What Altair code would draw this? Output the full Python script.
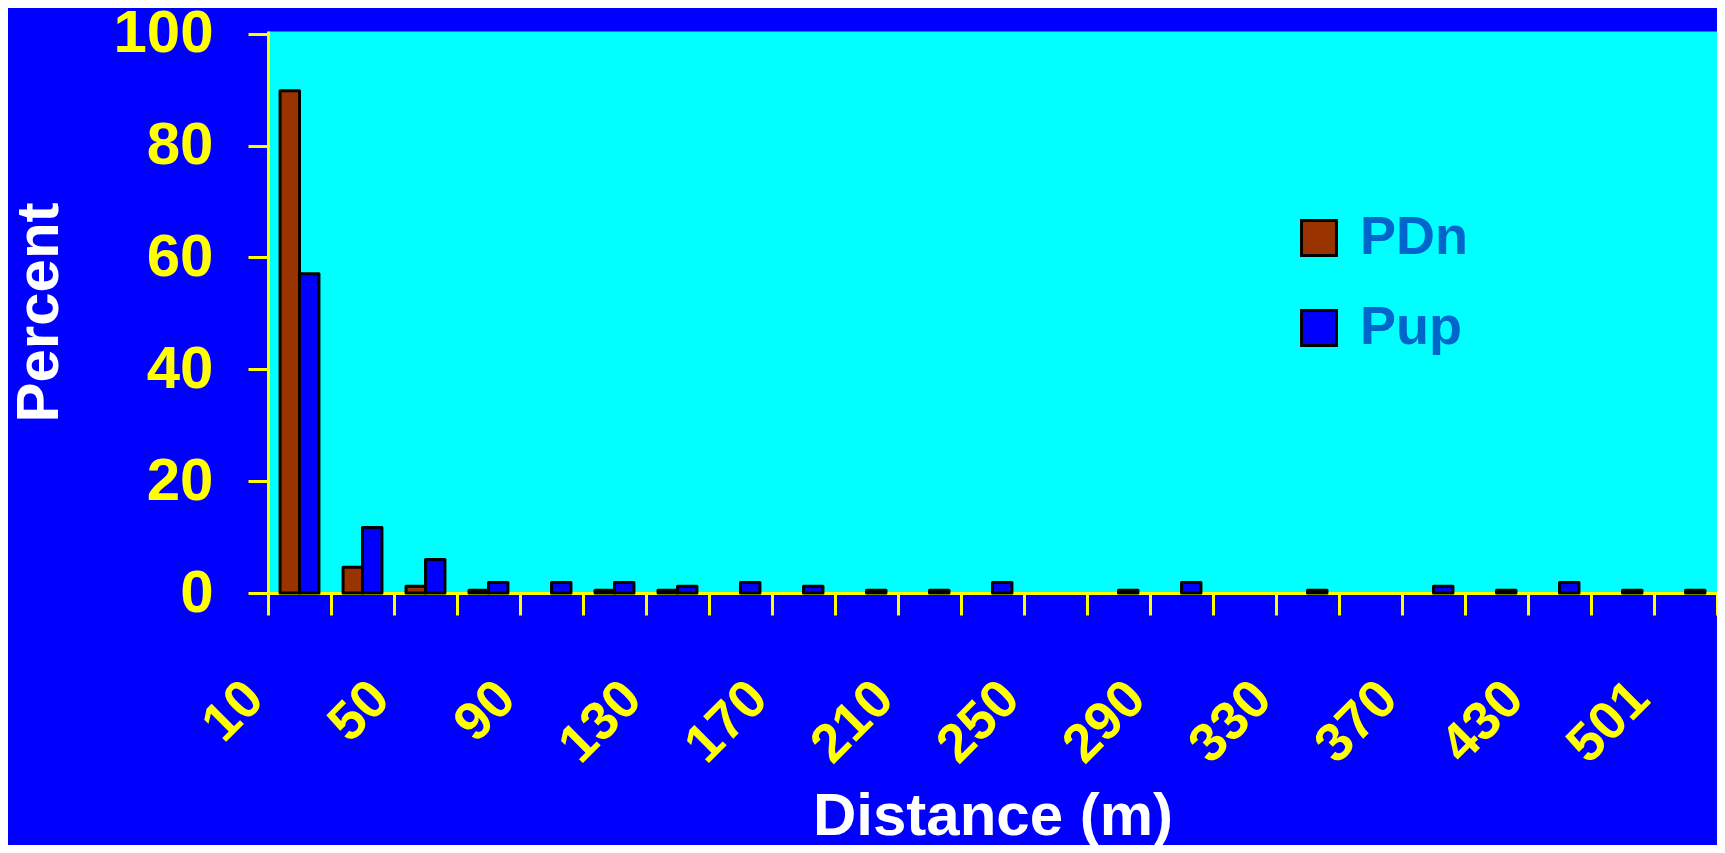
import altair as alt
import pandas as pd

# ---- data ----
categories = ["10", "30", "50", "70", "90", "110", "130", "150", "170", "190", "210", "230",
              "250", "270", "290", "310", "330", "350", "370", "390", "430", "470", "501"]
shown_labels = ["10", "50", "90", "130", "170", "210", "250", "290", "330", "370", "430", "501"]
pdn_values = [89.8, 4.6, 1.2, 0.5, 0, 0.5, 0.5, 0, 0, 0, 0, 0,
              0, 0, 0, 0, 0, 0, 0, 0, 0, 0, 0]
pup_values = [57.1, 11.7, 6.0, 1.9, 1.9, 1.9, 1.2, 1.9, 1.2, 0.5, 0.5, 1.9,
              0, 0.5, 1.9, 0, 0.5, 0, 1.2, 0.5, 1.9, 0.5, 0.5]
series_names = ["PDn", "Pup"]
series_colors = ["#993300", "#0000FF"]
y_ticks = [0, 20, 40, 60, 80, 100]

rows = []
for cat, a, b in zip(categories, pdn_values, pup_values):
    rows.append({"dist": cat, "series": "PDn", "value": a})
    rows.append({"dist": cat, "series": "Pup", "value": b})
df = pd.DataFrame(rows)

FONT = "Liberation Sans"
label_list = "[" + ",".join("'" + s + "'" for s in shown_labels) + "]"

chart = alt.Chart(df).transform_filter("datum.value > 0").mark_bar(
    stroke="black", strokeWidth=3, strokeJoin="round"
).encode(
    x=alt.X(
        "dist:N",
        sort=categories,
        scale=alt.Scale(domain=categories, paddingInner=0, paddingOuter=0),
        axis=alt.Axis(
            title="Distance (m)",
            titleFont=FONT, titleFontSize=60, titleFontWeight="bold", titleColor="white",
            titleY=241, titleBaseline="alphabetic",
            labelFont=FONT, labelFontSize=54, labelFontWeight="bold", labelColor="#FFFF00",
            labelAngle=315, labelAlign="right", labelBaseline="middle",
            labelPadding=75, labelOffset=-45, labelOverlap=False,
            labelExpr="indexof(" + label_list + ", datum.label) >= 0 ? datum.label : ''",
            tickBand="extent", tickSize=22, tickWidth=3, tickColor="#FFFF00",
            domainColor="#FFFF00", domainWidth=3, grid=False,
        ),
    ),
    xOffset=alt.XOffset(
        "series:N",
        scale=alt.Scale(domain=series_names, paddingInner=0, paddingOuter=0.62),
    ),
    y=alt.Y(
        "value:Q",
        scale=alt.Scale(domain=[0, 100.5], nice=False, zero=True),
        axis=alt.Axis(
            title="Percent", values=y_ticks,
            titleFont=FONT, titleFontSize=60, titleFontWeight="bold", titleColor="white",
            titleX=-211, titleBaseline="alphabetic",
            labelFont=FONT, labelFontSize=60, labelFontWeight="bold", labelColor="#FFFF00",
            labelPadding=35, tickSize=20, tickWidth=3, tickColor="#FFFF00",
            domainColor="#FFFF00", domainWidth=3, grid=False,
        ),
    ),
    color=alt.Color(
        "series:N",
        scale=alt.Scale(domain=series_names, range=series_colors),
        legend=alt.Legend(
            title=None, orient="none", legendX=1024, legendY=180,
            symbolType="square", symbolSize=1225, symbolStrokeColor="black",
            symbolStrokeWidth=3, symbolOpacity=1,
            labelFont=FONT, labelFontSize=54, labelFontWeight="bold", labelColor="#0066CC",
            labelOffset=14, rowPadding=36, padding=0,
        ),
    ),
).properties(
    width=1449,
    height=562,
    background="#0000FF",
    padding={"left": 260, "top": 23, "right": 0, "bottom": 252},
    autosize=alt.AutoSizeParams(type="none"),
).configure_view(
    fill="#00FFFF", stroke="transparent"
)

chart.save("out.html", embed_options={"renderer": "svg", "actions": False})
